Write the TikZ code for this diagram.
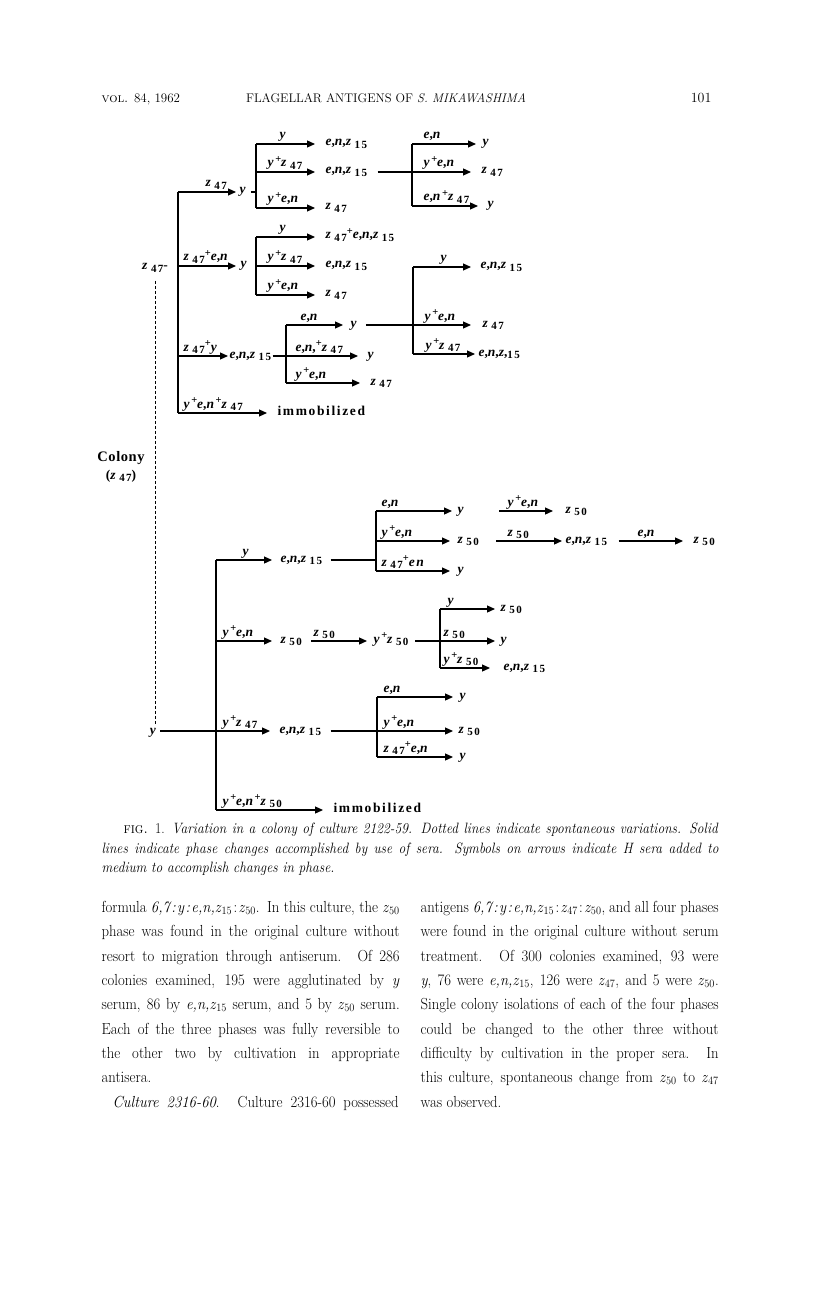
\documentclass[tikz,border=0pt]{standalone}
\usepackage{fontspec}
\usepackage{graphicx}
\usepackage{tikz}
\usetikzlibrary{positioning,arrows.meta}

\newfontfamily\dgfont[LetterSpace=12]{Liberation Serif}
\newfontfamily\colfont[LetterSpace=4]{Liberation Serif}
\newcommand{\dgf}{\dgfont\bfseries\fontsize{13.5}{14}\selectfont}
\newcommand{\zd}[1]{\raisebox{-2.5pt}{\fontsize{11}{11}\selectfont#1}}
\newcommand{\zz}[1]{\textit{z}\hspace{2pt}\zd{#1}}
\newcommand{\pl}{\raisebox{4.5pt}{\fontsize{10.5}{10.5}\selectfont+}}
\newcommand{\en}{\textit{e},\textit{n}}
\newcommand{\yy}{\textit{y}}
% antigen symbols in the running text
\newcommand{\zt}[1]{\textit{z}\textsubscript{#1}}
\newcommand{\ent}{\textit{e,n,}\zt{15}}
\newcommand{\cn}{\kern1.5pt:\kern1.5pt}
% one justified line of a column / of the legend
\newcommand{\jl}[2][324pt]{\scalebox{0.92}[1]{\makebox[#1][s]{\spaceskip=0.24em plus 1em minus 0.08em #2}}}
\newcommand{\rl}[1]{\scalebox{0.92}[1]{#1}}
\newcommand{\cjl}[2]{\scalebox{0.9}[1]{\makebox[#1][s]{#2}}}

\begin{document}
\begin{tikzpicture}[x=1pt,y=-1pt,line width=1.2pt,
    arr/.style={-{Triangle[length=8pt,width=7pt]}},
    lbl/.style={anchor=base west,inner sep=0pt,yshift=5pt,font=\dgf},
    tgt/.style={anchor=base west,inner ysep=0pt,inner xsep=#1,yshift=-2pt,font=\dgf},
    tgt/.default=8pt,
    txt/.style={inner sep=0pt,font=\dgf},
    bodyt/.style={anchor=base west,inner sep=0pt,font=\fontsize{16}{16}\selectfont},
    capt/.style={anchor=base west,inner sep=0pt,font=\fontsize{15}{15}\selectfont},
    spont/.style={line width=1pt,dash pattern=on 3pt off 2pt}
  ]
  \useasboundingbox[fill=white] (0,0) rectangle (816,1305);

  % running head
  \node[anchor=base west,inner sep=0pt,font=\fontsize{13}{13}\selectfont] (vol) at (101,103) {\textsc{vol.} 84, 1962};
  \node[anchor=base,inner sep=0pt,font=\fontsize{12.5}{13}\selectfont] (title) at (386,103) {FLAGELLAR ANTIGENS OF \textit{S. MIKAWASHIMA}};
  \node[anchor=base east,inner sep=0pt,font=\fontsize{14}{14}\selectfont] (page) at (712,103) {101};

  % upper tree (from z47)
  \coordinate (ua) at (178,192);
  \coordinate (ub) at (178,266);
  \coordinate (uc) at (178,356);
  \coordinate (ud) at (178,413);
  \draw (ua) -- (ud);

  \node[lbl] (lua) at (205,192) {\zz{47}};
  \node[tgt=3pt] (ya) at (236,192) {\yy};
  \draw[arr] (ua) -- (ua -| ya.west);
  \foreach \k/\ry/\lx/\lab/\tg in {1/144/279/\yy/{\en,\zz{15}}, 2/172/267/{\yy\pl\zz{47}}/{\en,\zz{15}}, 3/208/267/{\yy\pl\en}/\zz{47}}{
    \coordinate (as\k) at (256,\ry);
    \node[lbl] (al\k) at (\lx,\ry) {\lab};
    \node[tgt=10pt] (at\k) at (315,\ry) {\tg};
    \draw[arr] (as\k) -- (as\k -| at\k.west);
  }
  \draw (as1) -- (as3);
  \draw (ya.east |- ua) -- (ua -| as1);
  \foreach \k/\ry/\tip/\gp/\lab/\tg in {1/144/476/6pt/\en/\yy, 2/172/471/10pt/{\yy\pl\en}/\zz{47}, 3/206/478/9pt/{\en\pl\zz{47}}/\yy}{
    \coordinate (bs\k) at (412,\ry);
    \node[lbl] (bl\k) at (423,\ry) {\lab};
    \node[tgt=\gp] (bt\k) at (\tip,\ry) {\tg};
    \draw[arr] (bs\k) -- (bs\k -| bt\k.west);
  }
  \draw (bs1) -- (bs3);
  \draw (at2.east |- bs2) -- (bs2);

  \node[lbl] (lub) at (183,266) {\zz{47}\pl\en};
  \node[tgt=4pt] (yb) at (236,266) {\yy};
  \draw[arr] (ub) -- (ub -| yb.west);
  \foreach \k/\ry/\lx/\lab/\tg in {1/237/279/\yy/{\zz{47}\pl\en,\zz{15}}, 2/266/267/{\yy\pl\zz{47}}/{\en,\zz{15}}, 3/295/267/{\yy\pl\en}/\zz{47}}{
    \coordinate (bbs\k) at (256,\ry);
    \node[lbl] (bbl\k) at (\lx,\ry) {\lab};
    \node[tgt=10pt] (bbt\k) at (315,\ry) {\tg};
    \draw[arr] (bbs\k) -- (bbs\k -| bbt\k.west);
  }
  \draw (bbs1) -- (bbs3);

  \node[lbl] (luc) at (183,356) {\zz{47}\pl\yy};
  \node[tgt=1pt] (ec) at (228,356) {\en,\zz{15}};
  \draw[arr] (uc) -- (uc -| ec.west);
  \foreach \k/\ry/\tip/\gp/\lx/\lab/\tg in {1/325/343/7pt/300/\en/\yy, 2/356/358/9pt/295/{\en,\pl\zz{47}}/\yy, 3/383/360/10pt/295/{\yy\pl\en}/\zz{47}}{
    \coordinate (cs\k) at (286,\ry);
    \node[lbl] (cl\k) at (\lx,\ry) {\lab};
    \node[tgt=\gp] (ct\k) at (\tip,\ry) {\tg};
    \draw[arr] (cs\k) -- (cs\k -| ct\k.west);
  }
  \draw (cs1) -- (cs3);
  \draw (ec.east |- cs2) -- (cs2);
  \foreach \k/\ry/\tip/\gp/\lx/\lab/\tg in {1/267/471/9pt/440/\yy/{\en,\zz{15}}, 2/325/471/11pt/424/{\yy\pl\en}/\zz{47}, 3/354/475/3pt/425/{\yy\pl\zz{47}}/{\en,\textit{z},\zd{15}}}{
    \coordinate (ds\k) at (413,\ry);
    \node[lbl] (dl\k) at (\lx,\ry) {\lab};
    \node[tgt=\gp] (dt\k) at (\tip,\ry) {\tg};
    \draw[arr] (ds\k) -- (ds\k -| dt\k.west);
  }
  \draw (ds1) -- (ds3);
  \draw (ct1.east |- ds2) -- (ds2);

  \node[lbl] (lud) at (183,413) {\yy\pl\en\pl\zz{47}};
  \node[tgt=10pt] (imm1) at (267,413) {immobilized};
  \draw[arr] (ud) -- (ud -| imm1.west);

  % spontaneous change
  \node[txt] (zs) at (155,268) {\zz{47}-};
  \node[txt,anchor=base east] (yl) at (158,734) {\yy};
  \draw[spont,shorten <=8pt,shorten >=3pt] (zs.south) -- (zs.south |- yl.north);
  \node[inner sep=0pt,font=\colfont\bfseries\fontsize{14.5}{15}\selectfont] (col) at (121,458) {Colony};
  \node[txt] (colz) at (121,476) {(\zz{47})};

  % lower tree (from y)
  \coordinate (la) at (216,560);
  \coordinate (lb) at (216,641);
  \coordinate (lc) at (216,731);
  \coordinate (ld) at (216,810);
  \draw (la) -- (ld);

  \node[lbl] (lla) at (242,560) {\yy};
  \node[tgt] (ea) at (272,560) {\en,\zz{15}};
  \draw[arr] (la) -- (la -| ea.west);
  \foreach \k/\ry/\tip/\gp/\lab/\tg in {1/511/452/5pt/\en/\yy, 2/541/450/7pt/{\yy\pl\en}/\zz{50}, 3/571/450/7pt/{\zz{47}\pl\textit{en}}/\yy}{
    \coordinate (ms\k) at (376,\ry);
    \node[lbl] (ml\k) at (381,\ry) {\lab};
    \node[tgt=\gp] (mt\k) at (\tip,\ry) {\tg};
    \draw[arr] (ms\k) -- (ms\k -| mt\k.west);
  }
  \draw (ms1) -- (ms3);
  \coordinate (mf) at (376,560);
  \draw (ea.east |- mf) -- (mf);

  \coordinate (xa) at (499,511);
  \node[lbl] (lxa) at (507,511) {\yy\pl\en};
  \node[tgt=12pt] (xta) at (553,511) {\zz{50}};
  \draw[arr] (xa) -- (xa -| xta.west);
  \coordinate (xb) at (496,541);
  \node[lbl] (lxb) at (507,541) {\zz{50}};
  \node[tgt=3pt] (xtb) at (562,541) {\en,\zz{15}};
  \draw[arr] (xb) -- (xb -| xtb.west);
  \node[lbl] (lxc) at (637,541) {\en};
  \node[tgt=10pt] (xtc) at (683,541) {\zz{50}};
  \draw[arr,shorten <=8pt] (xtb.east |- xb) -- (xb -| xtc.west);

  \node[lbl] (llb) at (222,641) {\yy\pl\en};
  \node[tgt] (eb) at (272,641) {\zz{50}};
  \draw[arr] (lb) -- (lb -| eb.west);
  \coordinate (nb) at (311,641);
  \node[lbl] (lnb) at (313,641) {\zz{50}};
  \node[tgt=6pt] (yz) at (367,641) {\yy\pl\zz{50}};
  \draw[arr] (nb) -- (nb -| yz.west);
  \foreach \k/\ry/\tip/\gp/\lx/\lab/\tg in {1/609/495/5pt/447/\yy/\zz{50}, 2/641/495/5pt/443/\zz{50}/\yy, 3/668/490/13pt/443/{\yy\pl\zz{50}}/{\en,\zz{15}}}{
    \coordinate (ns\k) at (440,\ry);
    \node[lbl] (nl\k) at (\lx,\ry) {\lab};
    \node[tgt=\gp] (nt\k) at (\tip,\ry) {\tg};
    \draw[arr] (ns\k) -- (ns\k -| nt\k.west);
  }
  \draw (ns1) -- (ns3);
  \draw (yz.east |- ns2) -- (ns2);

  \node[lbl] (llc) at (222,731) {\yy\pl\zz{47}};
  \node[tgt=9pt] (ec3) at (270,731) {\en,\zz{15}};
  \draw[arr,shorten <=2pt] (yl.east |- lc) -- (lc -| ec3.west);
  \foreach \k/\ry/\gp/\lab/\tg in {1/697/6pt/\en/\yy, 2/731/5pt/{\yy\pl\en}/\zz{50}, 3/757/6pt/{\zz{47}\pl\en}/\yy}{
    \coordinate (os\k) at (377,\ry);
    \node[lbl] (ol\k) at (383,\ry) {\lab};
    \node[tgt=\gp] (ot\k) at (453,\ry) {\tg};
    \draw[arr] (os\k) -- (os\k -| ot\k.west);
  }
  \draw (os1) -- (os3);
  \draw (ec3.east |- os2) -- (os2);

  \node[lbl] (lld) at (222,810) {\yy\pl\en\pl\zz{50}};
  \node[tgt=10pt] (imm2) at (323,810) {immobilized};
  \draw[arr] (ld) -- (ld -| imm2.west);

  % legend
  \node[capt] (cap1) at (123,833) {\cjl{661pt}{\textsc{fig.} 1. \textit{Variation in a colony of culture 2122-59. Dotted lines indicate spontaneous variations. Solid}}};
  \node[capt] (cap2) at (101,853) {\cjl{685.5pt}{\textit{lines indicate phase changes accomplished by use of sera. Symbols on arrows indicate H sera added to}}};
  \node[capt] (cap3) at (101,872) {\scalebox{0.9}[1]{\textit{medium to accomplish changes in phase.}}};

  % text, left column
  \node[bodyt] (lc1) at (101,912) {\jl{formula \textit{6,7\cn y\cn e,n,}\zt{15}\cn\zt{50}. In this culture, the \zt{50}}};
  \node[bodyt] (lc2) at (101,936) {\jl{phase was found in the original culture without}};
  \node[bodyt] (lc3) at (101,961) {\jl{resort to migration through antiserum. Of 286}};
  \node[bodyt] (lc4) at (101,985) {\jl{colonies examined, 195 were agglutinated by \textit{y}}};
  \node[bodyt] (lc5) at (101,1009) {\jl{serum, 86 by \ent\ serum, and 5 by \zt{50} serum.}};
  \node[bodyt] (lc6) at (101,1034) {\jl{Each of the three phases was fully reversible to}};
  \node[bodyt] (lc7) at (101,1058) {\jl{the other two by cultivation in appropriate}};
  \node[bodyt] (lc8) at (101,1082) {\rl{antisera.}};
  \node[bodyt] (lc9) at (112,1107) {\jl[311pt]{\textit{Culture 2316-60}. Culture 2316-60 possessed}};

  % text, right column
  \node[bodyt] (rc1) at (420,912) {\jl{antigens \textit{6,7\cn y\cn e,n,}\zt{15}\cn\zt{47}\cn\zt{50}, and all four phases}};
  \node[bodyt] (rc2) at (420,936) {\jl{were found in the original culture without serum}};
  \node[bodyt] (rc3) at (420,961) {\jl{treatment. Of 300 colonies examined, 93 were}};
  \node[bodyt] (rc4) at (420,985) {\jl{\textit{y}, 76 were \ent, 126 were \zt{47}, and 5 were \zt{50}.}};
  \node[bodyt] (rc5) at (420,1009) {\jl{Single colony isolations of each of the four phases}};
  \node[bodyt] (rc6) at (420,1034) {\jl{could be changed to the other three without}};
  \node[bodyt] (rc7) at (420,1058) {\jl{difficulty by cultivation in the proper sera. In}};
  \node[bodyt] (rc8) at (420,1082) {\jl{this culture, spontaneous change from \zt{50} to \zt{47}}};
  \node[bodyt] (rc9) at (420,1107) {\rl{was observed.}};
\end{tikzpicture}
\end{document}
